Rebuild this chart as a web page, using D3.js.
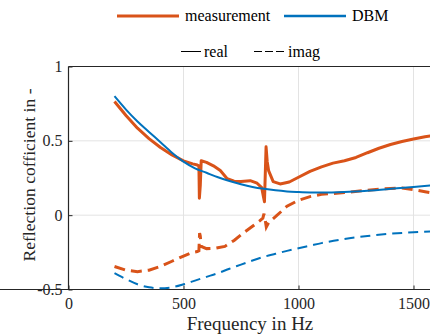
<!DOCTYPE html>
<html>
<head>
<meta charset="utf-8">
<script src="https://cdn.jsdelivr.net/npm/d3@7"></script>
<style>
  html, body { margin: 0; padding: 0; background: #fff; }
  svg { display: block; font-family: "Liberation Serif", "DejaVu Serif", serif; }
</style>
</head>
<body>
<svg id="chart" width="430" height="336"></svg>
<script>
// measurement, real part
const measFreq = [200, 250, 300, 350, 400, 450, 500, 540, 560, 567, 569, 573, 577, 600, 630, 660, 690, 720, 750, 790, 820, 840, 848, 852, 856, 859, 864, 870, 890, 920, 960, 1000, 1050, 1100, 1150, 1200, 1250, 1300, 1350, 1400, 1450, 1500, 1550, 1600];
const measReal = [0.765, 0.67, 0.585, 0.515, 0.455, 0.405, 0.365, 0.345, 0.337, 0.332, 0.114, 0.2, 0.366, 0.355, 0.332, 0.3, 0.245, 0.228, 0.226, 0.232, 0.215, 0.185, 0.12, 0.09, 0.3, 0.46, 0.36, 0.3, 0.226, 0.21, 0.223, 0.255, 0.295, 0.325, 0.35, 0.366, 0.388, 0.42, 0.45, 0.475, 0.495, 0.512, 0.527, 0.54];

// measurement, imaginary part
const measImagFreq = [200, 250, 300, 350, 400, 450, 500, 540, 560, 567, 570, 573, 577, 600, 640, 680, 720, 760, 800, 830, 845, 850, 855, 860, 870, 900, 950, 1000, 1050, 1100, 1200, 1300, 1400, 1450, 1500, 1550, 1600];
const measImag = [-0.345, -0.37, -0.38, -0.37, -0.345, -0.31, -0.275, -0.25, -0.245, -0.24, -0.12, -0.14, -0.21, -0.225, -0.222, -0.21, -0.17, -0.12, -0.075, -0.04, -0.02, 0.01, -0.03, -0.08, -0.05, -0.01, 0.06, 0.1, 0.125, 0.14, 0.152, 0.168, 0.18, 0.182, 0.172, 0.158, 0.145];

// DBM model
const dbmFreq = [200, 250, 300, 350, 400, 450, 500, 550, 600, 650, 700, 750, 800, 850, 900, 950, 1000, 1050, 1100, 1200, 1300, 1400, 1500, 1600];
const dbmReal = [0.80, 0.71, 0.63, 0.56, 0.49, 0.42, 0.36, 0.315, 0.285, 0.255, 0.23, 0.208, 0.19, 0.177, 0.167, 0.16, 0.156, 0.153, 0.152, 0.156, 0.165, 0.177, 0.19, 0.204];
const dbmImag = [-0.39, -0.43, -0.465, -0.485, -0.492, -0.485, -0.465, -0.44, -0.415, -0.39, -0.36, -0.333, -0.305, -0.28, -0.26, -0.24, -0.222, -0.205, -0.188, -0.16, -0.14, -0.125, -0.115, -0.108];

const xTicks = [0, 500, 1000, 1500];
const yTicks = [-0.5, 0, 0.5, 1];
const yTickLabels = ['-0.5', '0', '0.5', '1'];

const orange = '#D95319';
const blue = '#0072BD';
const axisColor = '#262626';
const serif = '"Liberation Serif", "DejaVu Serif", serif';

const svg = d3.select('#chart');

const x = d3.scaleLinear().domain([0, 1600]).range([68.5, 436.5]);
const y = d3.scaleLinear().domain([-0.5, 1]).range([289.5, 66.5]);

// grid
svg.append('g')
  .selectAll('line')
  .data(xTicks.slice(1))
  .enter().append('line')
  .attr('x1', d => x(d)).attr('x2', d => x(d))
  .attr('y1', y(-0.5)).attr('y2', y(1))
  .attr('stroke', '#e3e3e3').attr('stroke-width', 1);

svg.append('g')
  .selectAll('line')
  .data(yTicks.slice(1, 3))
  .enter().append('line')
  .attr('x1', x(0)).attr('x2', x(1600))
  .attr('y1', d => y(d)).attr('y2', d => y(d))
  .attr('stroke', '#e3e3e3').attr('stroke-width', 1);

// axes
const xAxis = d3.axisBottom(x).tickValues(xTicks).tickSize(-4).tickPadding(8).tickFormat(d => String(d));
const yAxis = d3.axisLeft(y).tickValues(yTicks).tickSize(-4).tickPadding(6)
  .tickFormat((d, i) => yTickLabels[i]);

const gx = svg.append('g').attr('transform', `translate(0,${y(-0.5)})`).call(xAxis);
const gy = svg.append('g').attr('transform', `translate(${x(0)},0)`).call(yAxis);

[gx, gy].forEach(g => {
  g.attr('font-family', serif).attr('font-size', 16);
  g.select('.domain').attr('stroke', axisColor).attr('stroke-width', 1.2);
  g.selectAll('.tick line').attr('stroke', axisColor);
  g.selectAll('.tick text').attr('fill', axisColor);
});
gy.select('.domain').attr('d', `M0,${y(-0.5)}V${y(1)}`);
gx.select('.domain').attr('d', `M0,0H${x(1600)}`);

// top border
svg.append('line')
  .attr('x1', x(0)).attr('x2', x(1600))
  .attr('y1', y(1)).attr('y2', y(1))
  .attr('stroke', axisColor).attr('stroke-width', 1.2);

// series
const line = d3.line().x(d => x(d[0])).y(d => y(d[1]));
const smooth = d3.line().x(d => x(d[0])).y(d => y(d[1])).curve(d3.curveMonotoneX);

svg.append('path')
  .datum(d3.zip(measImagFreq, measImag))
  .attr('d', line).attr('fill', 'none')
  .attr('stroke', orange).attr('stroke-width', 3).attr('stroke-dasharray', '11,6');
svg.append('path')
  .datum(d3.zip(measFreq, measReal))
  .attr('d', line).attr('fill', 'none')
  .attr('stroke', orange).attr('stroke-width', 3).attr('stroke-linejoin', 'round');
svg.append('path')
  .datum(d3.zip(dbmFreq, dbmReal))
  .attr('d', smooth).attr('fill', 'none')
  .attr('stroke', blue).attr('stroke-width', 2);
svg.append('path')
  .datum(d3.zip(dbmFreq, dbmImag))
  .attr('d', smooth).attr('fill', 'none')
  .attr('stroke', blue).attr('stroke-width', 2).attr('stroke-dasharray', '10,6');

// axis labels
svg.append('text')
  .attr('x', 250).attr('y', 330)
  .attr('text-anchor', 'middle')
  .attr('fill', axisColor)
  .style('font-size', '19px')
  .text('Frequency in Hz');

svg.append('text')
  .attr('transform', 'translate(35,175) rotate(-90)')
  .attr('text-anchor', 'middle')
  .attr('fill', axisColor)
  .style('font-size', '17.6px')
  .text('Reflection cofficient in -');

// legend 1
const leg1 = [
  { label: 'measurement', color: orange, x0: 117, width: 3 },
  { label: 'DBM', color: blue, x0: 284, width: 2.5 }
];
leg1.forEach(d => {
  svg.append('line')
    .attr('x1', d.x0).attr('x2', d.x0 + 62)
    .attr('y1', 16).attr('y2', 16)
    .attr('stroke', d.color).attr('stroke-width', d.width);
  svg.append('text')
    .attr('x', d.x0 + 68).attr('y', 21)
    .attr('fill', '#000')
    .style('font-size', '16px')
    .text(d.label);
});

// legend 2
const leg2 = [
  { label: 'real', x0: 181, len: 20, dash: null },
  { label: 'imag', x0: 254, len: 31, dash: '8,3' }
];
leg2.forEach(d => {
  svg.append('line')
    .attr('x1', d.x0).attr('x2', d.x0 + d.len)
    .attr('y1', 51.5).attr('y2', 51.5)
    .attr('stroke', '#000').attr('stroke-width', 1)
    .attr('stroke-dasharray', d.dash);
  svg.append('text')
    .attr('x', d.x0 + d.len + 3).attr('y', 57)
    .attr('fill', '#000')
    .style('font-size', '16px')
    .text(d.label);
});
</script>
</body>
</html>
